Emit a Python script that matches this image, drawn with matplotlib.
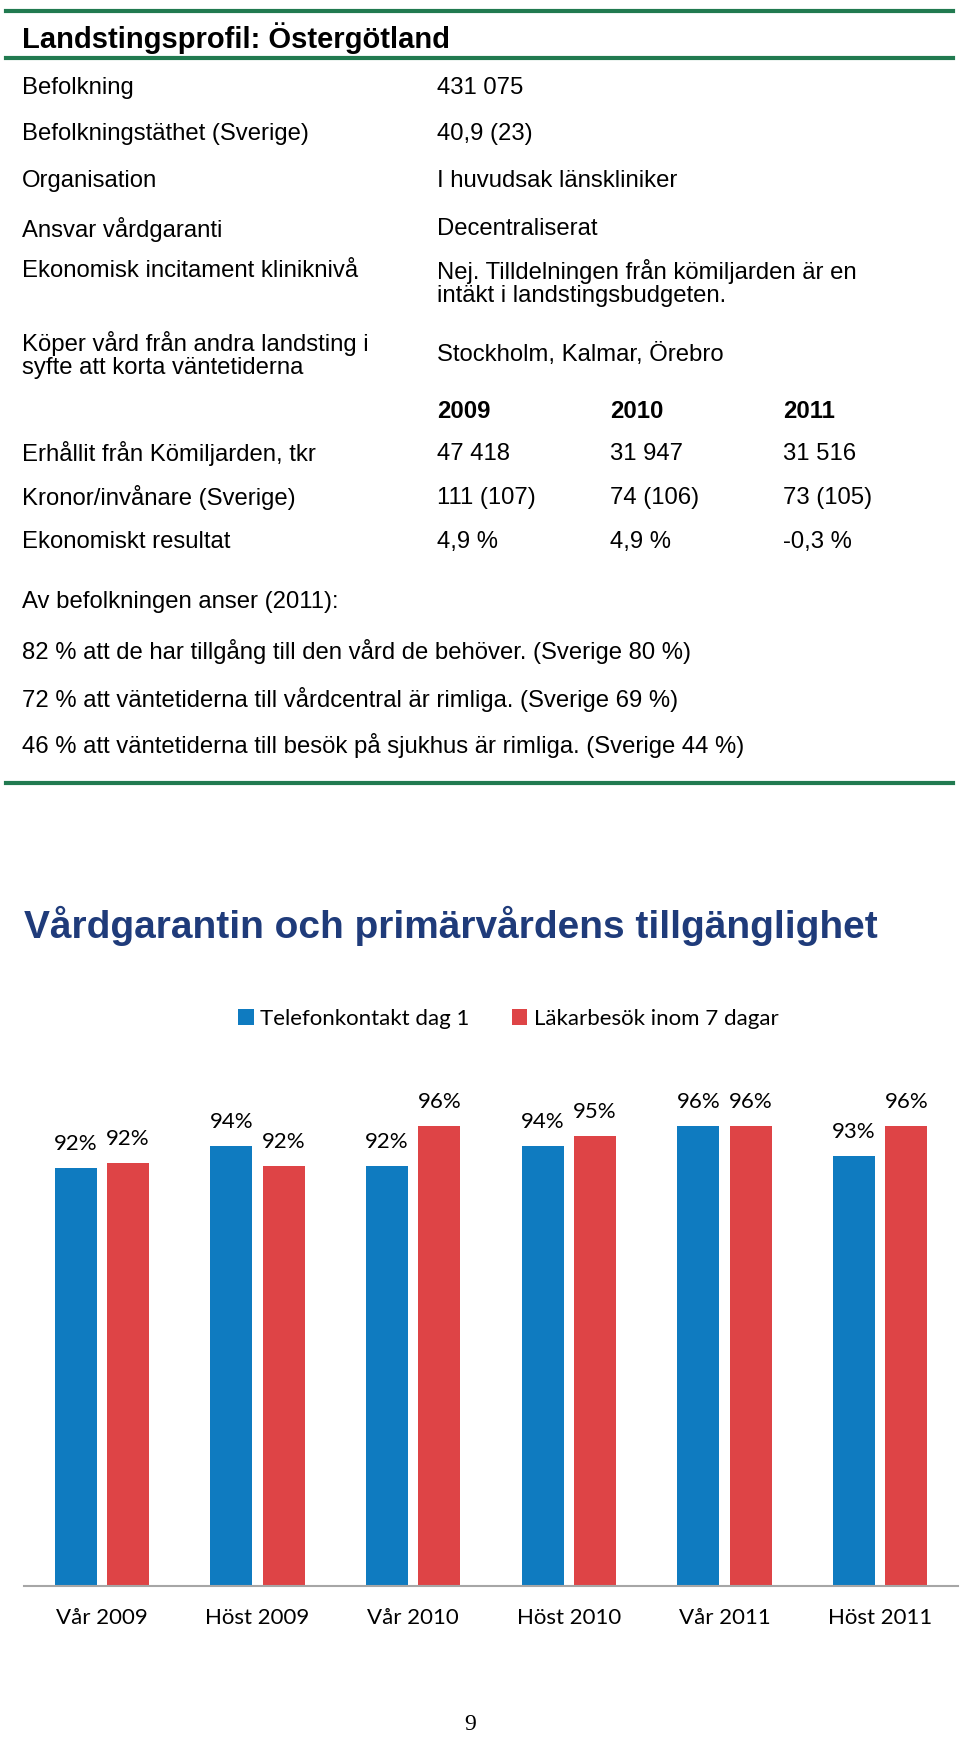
import matplotlib
matplotlib.use("Agg")
import matplotlib.pyplot as plt
import numpy as np

# profile table
profile_labels = ["Befolkning", "Befolkningstäthet (Sverige)", "Organisation",
                  "Ansvar vårdgaranti", "Ekonomisk incitament klinikniv\u00e5",
                  "Köper vård från andra landsting i\nsyfte att korta väntetiderna"]
profile_values = ["431 075", "40,9 (23)", "I huvudsak länskliniker", "Decentraliserat",
                  "Nej. Tilldelningen från kömiljarden är en\nintäkt i landstingsbudgeten.",
                  "Stockholm, Kalmar, Örebro"]

years = ["2009", "2010", "2011"]
finance_labels = ["Erhållit från Kömiljarden, tkr", "Kronor/invånare (Sverige)", "Ekonomiskt resultat"]
finance_values = [["47 418", "31 947", "31 516"],
                  ["111 (107)", "74 (106)", "73 (105)"],
                  ["4,9 %", "4,9 %", "-0,3 %"]]

survey_lines = ["Av befolkningen anser (2011):",
                "82 % att de har tillgång till den vård de behöver. (Sverige 80 %)",
                "72 % att väntetiderna till vårdcentral är rimliga. (Sverige 69 %)",
                "46 % att väntetiderna till besök på sjukhus är rimliga. (Sverige 44 %)"]

# chart data
periods = ["Vår 2009", "Höst 2009", "Vår 2010", "Höst 2010", "Vår 2011", "Höst 2011"]
telefon = [91.8, 94.0, 92.0, 94.0, 96.0, 93.0]
lakarbesok = [92.3, 92.0, 96.0, 95.0, 96.0, 96.0]

W, H = 960, 1742
GREEN = "#217A50"
BLUE = "#0F7BC0"
RED = "#DE4446"
NAVY = "#1F3B7A"

fig = plt.figure(figsize=(W / 100, H / 100), dpi=100)


def fy(y):
    return 1 - y / H


def fx(x):
    return x / W


def txt(x, y, s, **kw):
    kw.setdefault("fontsize", 17.2)
    kw.setdefault("family", "Liberation Sans")
    kw.setdefault("va", "center")
    kw.setdefault("color", "black")
    fig.text(fx(x), fy(y + 2), s, **kw)


def hline(y):
    fig.add_artist(plt.Line2D([fx(6), fx(953)], [fy(y), fy(y)], color=GREEN, lw=3,
                              transform=fig.transFigure))


hline(11)
txt(22, 36, "Landstingsprofil: Östergötland", fontsize=21, weight="bold")
hline(58)

row_y = [86, 132, 179, 227, 281, 353]
for lab, val, y in zip(profile_labels, profile_values, row_y):
    if "\n" in val:
        txt(22, 269, lab)
        txt(437, y, val, linespacing=1.05)
    elif "\n" in lab:
        txt(22, y, lab, linespacing=1.05)
        txt(437, y, val)
    else:
        txt(22, y, lab)
        txt(437, y, val)

col_x = [437, 610, 783]
for x, yr in zip(col_x, years):
    txt(x, 409, yr, weight="bold")
for lab, vals, y in zip(finance_labels, finance_values, [452, 496, 540]):
    txt(22, y, lab)
    for x, v in zip(col_x, vals):
        txt(x, y, v)

for s, y in zip(survey_lines, [600, 649, 697, 743]):
    txt(22, y, s)

hline(783)

txt(24, 924, "Vårdgarantin och primärvårdens tillgänglighet", fontsize=28,
    weight="bold", color=NAVY)

# bar chart
ax = fig.add_axes([fx(24), fy(1586), fx(934), 500 / H])
x = np.arange(len(periods))
bw = 0.27
off = 0.168
b1 = ax.bar(x - off, telefon, bw, color=BLUE, label="Telefonkontakt dag 1")
b2 = ax.bar(x + off, lakarbesok, bw, color=RED, label="Läkarbesök inom 7 dagar")
for bars, vals in [(b1, telefon), (b2, lakarbesok)]:
    for rect, v in zip(bars, vals):
        ax.annotate(f"{v:.0f}%", (rect.get_x() + rect.get_width() / 2, v),
                    xytext=(0, 17), textcoords="offset points", ha="center",
                    va="center", fontsize=16, family="Lato")
ax.set_ylim(50, 100)
ax.set_xlim(-0.5, len(periods) - 0.5)
ax.set_yticks([])
ax.set_xticks(x)
ax.set_xticklabels(periods, fontsize=16, family="Lato")
ax.tick_params(axis="x", length=0, pad=16)
for s in ["top", "left", "right"]:
    ax.spines[s].set_visible(False)
ax.spines["bottom"].set_color("#A6A6A6")
ax.spines["bottom"].set_linewidth(1.5)

fig.legend(handles=[b1, b2], loc="center left", bbox_to_anchor=(fx(218), fy(1019)),
           ncol=2, frameon=False, prop={"family": "Lato", "size": 16},
           handlelength=0.7, handleheight=0.7, handletextpad=0.3, columnspacing=1.9)

txt(470, 1722, "9", fontsize=17, family="Liberation Serif", ha="center")

fig.savefig("out.png", dpi=100)
